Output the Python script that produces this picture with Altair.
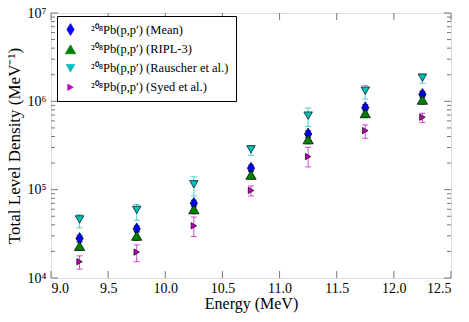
import altair as alt
import pandas as pd

energy = [9.25, 9.75, 10.25, 10.75, 11.25, 11.75, 12.25]
series_names = ["²⁰⁸Pb(p,p′) (Mean)", "²⁰⁸Pb(p,p′) (RIPL-3)",
                "²⁰⁸Pb(p,p′) (Rauscher et al.)", "²⁰⁸Pb(p,p′) (Syed et al.)"]
series_colors = ["#0000ff", "#008000", "#00bfbf", "#bf00bf"]
series_shapes = ["M0,-1L0.62,0L0,1L-0.62,0Z", "triangle-up", "triangle-down", "triangle-right"]
series_sizes = [140, 40, 40, 40]

mean_val = [28e3, 36e3, 70e3, 175e3, 427e3, 849e3, 1.20e6]
mean_lo = [25.5e3, 33e3, 64e3, 160e3, 390e3, 780e3, 1.10e6]
mean_hi = [30.5e3, 39e3, 76e3, 190e3, 465e3, 920e3, 1.30e6]
ripl_val = [23e3, 30e3, 60e3, 147e3, 371e3, 733e3, 1.04e6]
ripl_lo = [20.5e3, 26.5e3, 53e3, 132e3, 330e3, 655e3, 0.93e6]
ripl_hi = [25.5e3, 33.5e3, 67e3, 162e3, 410e3, 810e3, 1.15e6]
rau_val = [46e3, 59e3, 115e3, 286e3, 689e3, 1.32e6, 1.85e6]
rau_lo = [37e3, 45e3, 85e3, 245e3, 520e3, 1.06e6, 1.60e6]
rau_hi = [52e3, 68e3, 140e3, 315e3, 840e3, 1.51e6, 2.04e6]
syed_val = [15.3e3, 19.6e3, 39e3, 98e3, 237e3, 466e3, 660e3]
syed_lo = [12.6e3, 15.3e3, 29.5e3, 85e3, 181e3, 382e3, 574e3]
syed_hi = [17.8e3, 23.7e3, 49e3, 110e3, 302e3, 541e3, 733e3]

x_ticks = [9.0, 9.5, 10.0, 10.5, 11.0, 11.5, 12.0, 12.5]
y_major = [1e4, 1e5, 1e6, 1e7]
y_labels = ["10⁴", "10⁵", "10⁶", "10⁷"]
y_minor = [m * 10 ** k for k in (4, 5, 6) for m in range(2, 10)]

rows = []
for name, vals, los, his in zip(series_names,
                                [mean_val, ripl_val, rau_val, syed_val],
                                [mean_lo, ripl_lo, rau_lo, syed_lo],
                                [mean_hi, ripl_hi, rau_hi, syed_hi]):
    for e, v, lo, hi in zip(energy, vals, los, his):
        rows.append({"series": name, "energy": e, "value": v, "lo": lo, "hi": hi})
df = pd.DataFrame(rows)

FONT = "Liberation Serif"
W, H = 400, 265
FRAME = "#777777"

xscale = alt.Scale(domain=[9.0, 12.5], nice=False, zero=False)
yscale = alt.Scale(type="log", domain=[1e4, 1e7], nice=False)
label_expr = " : ".join(
    [f"datum.value == {v:g} ? '{l}'" for v, l in zip(y_major[:-1], y_labels[:-1])]
) + f" : '{y_labels[-1]}'"

leg = alt.Legend(title=None, orient="none", legendX=6, legendY=3,
                 strokeColor="black", fillColor="white", padding=7,
                 labelFont=FONT, labelFontSize=12.5, labelColor="black",
                 symbolStrokeColor="black", symbolStrokeWidth=0.7, symbolOpacity=1,
                 rowPadding=6, labelOffset=14, cornerRadius=0, labelLimit=300)
color = alt.Color("series:N", scale=alt.Scale(domain=series_names, range=series_colors),
                  legend=leg)
base = alt.Chart(df)

err = base.mark_rule(strokeWidth=1, opacity=0.7).encode(
    x=alt.X("energy:Q", scale=xscale,
            axis=alt.Axis(values=x_ticks, format=".1f", title="Energy (MeV)", ticks=False,
                          domain=False, grid=False, labelFontSize=14, titleFontSize=16,
                          labelPadding=3, titlePadding=0, labelFont=FONT, titleFont=FONT,
                          labelColor="black", titleColor="black", titleFontWeight="normal")),
    y=alt.Y("lo:Q", scale=yscale,
            axis=alt.Axis(values=y_major, labelExpr=label_expr,
                          title="Total Level Density (MeV⁻¹)", ticks=False, domain=False,
                          grid=False, labelFontSize=14, titleFontSize=17, labelPadding=5,
                          titlePadding=4, labelFont=FONT, titleFont=FONT, labelColor="black",
                          titleColor="black", titleFontWeight="normal")),
    y2="hi:Q",
    color=color,
)
cap_lo = base.mark_tick(orient="horizontal", size=6, thickness=1, opacity=0.7).encode(
    x="energy:Q", y="lo:Q", color=color)
cap_hi = base.mark_tick(orient="horizontal", size=6, thickness=1, opacity=0.7).encode(
    x="energy:Q", y="hi:Q", color=color)

points = base.mark_point(filled=True, stroke="black", strokeWidth=0.7,
                         opacity=1).encode(
    x="energy:Q",
    y="value:Q",
    color=color,
    shape=alt.Shape("series:N", scale=alt.Scale(domain=series_names, range=series_shapes),
                    legend=leg),
    size=alt.Size("series:N", scale=alt.Scale(domain=series_names, range=series_sizes),
                  legend=leg),
)

# inward ticks
xt = alt.Chart(pd.DataFrame({"energy": x_ticks}))
ym = alt.Chart(pd.DataFrame({"value": y_major}))
yn = alt.Chart(pd.DataFrame({"value": y_minor}))
tick_style = dict(color=FRAME, strokeWidth=1)
ticks = [
    xt.mark_rule(**tick_style).encode(x="energy:Q", y=alt.value(H), y2=alt.value(H - 7)),
    xt.mark_rule(**tick_style).encode(x="energy:Q", y=alt.value(0), y2=alt.value(7)),
    ym.mark_rule(**tick_style).encode(y="value:Q", x=alt.value(0), x2=alt.value(7)),
    ym.mark_rule(**tick_style).encode(y="value:Q", x=alt.value(W), x2=alt.value(W - 7)),
    yn.mark_rule(**tick_style).encode(y="value:Q", x=alt.value(0), x2=alt.value(4)),
    yn.mark_rule(**tick_style).encode(y="value:Q", x=alt.value(W), x2=alt.value(W - 4)),
]

chart = alt.layer(err, cap_lo, cap_hi, *ticks, points).properties(
    width=W, height=H,
    autosize=alt.AutoSizeParams(type="none"),
    padding={"left": 43, "top": 5, "right": 10, "bottom": 36},
).configure_view(
    stroke=FRAME, strokeWidth=1.2
).configure(background="white")

chart.save("out.html", embed_options={"renderer": "svg", "actions": False})
